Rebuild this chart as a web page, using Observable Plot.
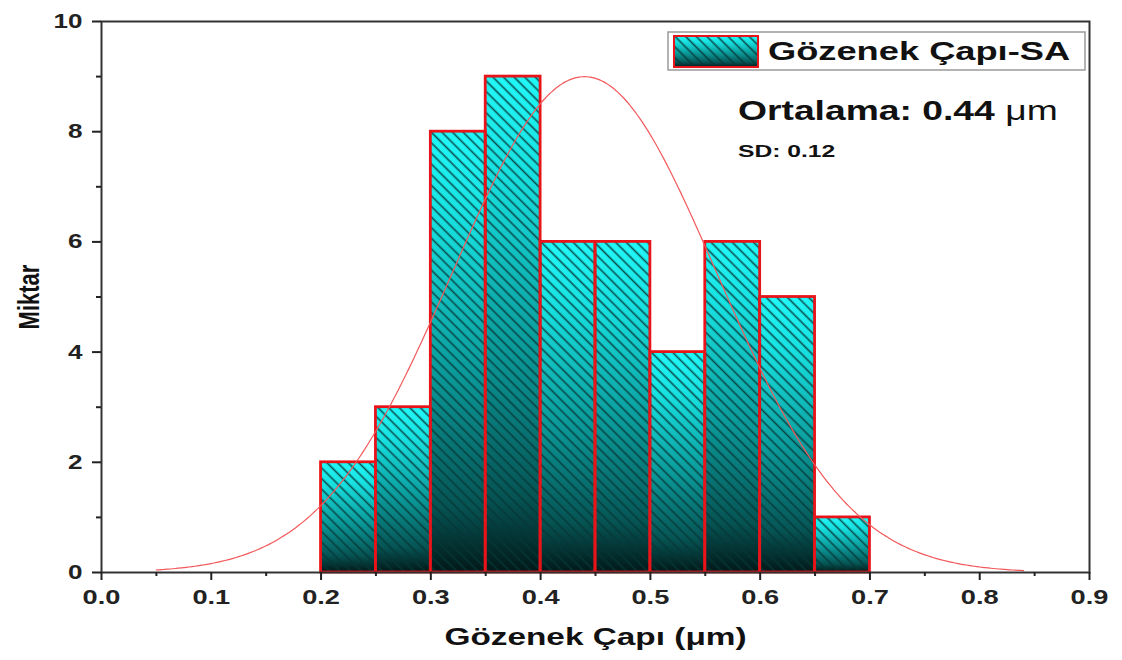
<!DOCTYPE html>
<html>
<head>
<meta charset="utf-8">
<script src="https://cdn.jsdelivr.net/npm/d3@7"></script>
<script src="https://cdn.jsdelivr.net/npm/@observablehq/plot@0.6"></script>
<style>
  html, body { margin: 0; padding: 0; background: #ffffff; }
  #chart svg { display: block; }
</style>
</head>
<body>
<div id="chart"></div>
<script>
// Pore diameter histogram (bins of 0.05 µm) with normal-fit overlay
const binStart = [0.20, 0.25, 0.30, 0.35, 0.40, 0.45, 0.50, 0.55, 0.60, 0.65];
const binCount = [2, 3, 8, 9, 6, 6, 4, 6, 5, 1];
const binWidth = 0.05;

const xTicks = [0, 0.1, 0.2, 0.3, 0.4, 0.5, 0.6, 0.7, 0.8, 0.9];
const xMinorTicks = [0.05, 0.15, 0.25, 0.35, 0.45, 0.55, 0.65, 0.75, 0.85];
const yTicks = [0, 2, 4, 6, 8, 10];
const yMinorTicks = [1, 3, 5, 7, 9];

// Fit statistics as printed on the chart; peak height of the fitted curve
const fitMean = 0.44;
const fitSD = 0.12;
const fitPeak = 9;
const fitRange = [0.05, 0.84];

const xTitle = "Gözenek Çapı (μm)";
const yTitle = "Miktar";
const seriesName = "Gözenek Çapı-SA";
const meanLabel = "Ortalama: 0.44 ";
const sdLabel = "SD: 0.12";

const bins = binStart.map((x, i) => ({x1: x, x2: x + binWidth, count: binCount[i]}));

// Fitted normal curve sampled across its drawn range
const fitCurve = d3.range(fitRange[0], fitRange[1] + 1e-9, 0.0025).map(x => ({
  x, y: fitPeak * Math.exp(-((x - fitMean) ** 2) / (2 * fitSD * fitSD))
}));

const FONT = "'Liberation Sans', Arial, Helvetica, sans-serif";
const BAR_STROKE = "#e8141a";

// Legend and statistics block, placed relative to the frame's top-right corner
function legendMark(index, scales, values, dims) {
  const right = dims.width - dims.marginRight;
  const top = dims.marginTop;
  const g = d3.create("svg:g").attr("font-family", FONT).attr("fill", "#111")
    .attr("text-anchor", "start");
  g.append("rect")
    .attr("x", right - 421).attr("y", top + 11)
    .attr("width", 417).attr("height", 38)
    .attr("fill", "#fff").attr("stroke", "#9a9a9a").attr("stroke-width", 1.5);
  const sw = {x: right - 415, y: top + 15, w: 84, h: 31};
  g.append("rect").attr("x", sw.x).attr("y", sw.y).attr("width", sw.w).attr("height", sw.h)
    .attr("fill", "url(#bar-gradient)");
  g.append("rect").attr("x", sw.x).attr("y", sw.y).attr("width", sw.w).attr("height", sw.h)
    .attr("fill", "url(#bar-hatch)").attr("stroke", BAR_STROKE).attr("stroke-width", 2);
  g.append("text").attr("class", "stretch-145")
    .attr("x", right - 321).attr("y", top + 39)
    .attr("font-size", 25).attr("font-weight", "bold")
    .text(seriesName);
  const mean = g.append("text").attr("class", "stretch-138")
    .attr("x", right - 351).attr("y", top + 99)
    .attr("font-size", 27).attr("font-weight", "bold");
  mean.append("tspan").text(meanLabel);
  mean.append("tspan").attr("font-weight", "normal").text("μm");
  g.append("text").attr("class", "stretch-145")
    .attr("x", right - 351).attr("y", top + 136)
    .attr("font-size", 17).attr("font-weight", "bold")
    .text(sdLabel);
  return g.node();
}

const chart = Plot.plot({
  width: 1122,
  height: 660,
  marginLeft: 101,
  marginRight: 33,
  marginTop: 21,
  marginBottom: 88,
  style: {fontFamily: FONT, background: "#ffffff", color: "#111"},
  x: {domain: [0, 0.9]},
  y: {domain: [0, 10]},
  marks: [
    // bars: gradient fill, then hatching with red outline
    Plot.rectY(bins, {x1: "x1", x2: "x2", y: "count", fill: "url(#bar-gradient)", insetLeft: 0, insetRight: 0}),
    Plot.rectY(bins, {x1: "x1", x2: "x2", y: "count", fill: "url(#bar-hatch)", stroke: BAR_STROKE, strokeWidth: 2.8, insetLeft: 0, insetRight: 0}),
    Plot.line(fitCurve, {x: "x", y: "y", stroke: "#f2595b", strokeWidth: 1.2, curve: "basis"}),
    Plot.frame({stroke: "#333", strokeWidth: 2}),
    Plot.axisX({ticks: xTicks, tickSize: 8, tickPadding: 9, tickFormat: d3.format(".1f"), label: null,
      fontSize: 20, fontWeight: "bold", color: "#222", strokeWidth: 2}),
    Plot.axisX({ticks: xMinorTicks, tickSize: 4, tickFormat: () => "", label: null, color: "#222", strokeWidth: 2}),
    Plot.axisY({ticks: yTicks, tickSize: 9, tickPadding: 10, tickFormat: d3.format("d"), label: null,
      fontSize: 20, fontWeight: "bold", color: "#222", strokeWidth: 2}),
    Plot.axisY({ticks: yMinorTicks, tickSize: 5, tickFormat: () => "", label: null, color: "#222", strokeWidth: 2}),
    Plot.text([xTitle], {frameAnchor: "bottom", dy: 65, lineAnchor: "middle", textAnchor: "middle", fontSize: 23,
      fontWeight: "bold", fill: "#111"}),
    Plot.text([yTitle], {frameAnchor: "left", dx: -72, rotate: -90, lineAnchor: "middle", textAnchor: "middle",
      fontSize: 22, fontWeight: "bold", fill: "#111"}),
    legendMark
  ]
});

// Gradient (cyan at the top of each bar, near-black at its base) and diagonal hatching
const defs = d3.select(chart).insert("defs", ":first-child");
const grad = defs.append("linearGradient").attr("id", "bar-gradient")
  .attr("x1", 0).attr("y1", 0).attr("x2", 0).attr("y2", 1);
grad.append("stop").attr("offset", "0%").attr("stop-color", "#22f8f8");
grad.append("stop").attr("offset", "20%").attr("stop-color", "#18e0e0");
grad.append("stop").attr("offset", "55%").attr("stop-color", "#0b9a9a");
grad.append("stop").attr("offset", "85%").attr("stop-color", "#065454");
grad.append("stop").attr("offset", "100%").attr("stop-color", "#021818");
const hatch = defs.append("pattern").attr("id", "bar-hatch")
  .attr("patternUnits", "userSpaceOnUse").attr("width", 7.5).attr("height", 7.5)
  .attr("patternTransform", "rotate(-45)");
hatch.append("line").attr("x1", 1.5).attr("y1", 0).attr("x2", 1.5).attr("y2", 7.5)
  .attr("stroke", "#063636").attr("stroke-width", 1.6).attr("stroke-opacity", 0.85);

document.getElementById("chart").appendChild(chart);

// Widen horizontal text glyphs; thicken the rotated y title
function stretchText(el, k) {
  const w = el.getComputedTextLength();
  if (w > 0) {
    el.setAttribute("textLength", (w * k).toFixed(1));
    el.setAttribute("lengthAdjust", "spacingAndGlyphs");
  }
}
d3.select(chart).selectAll("text").each(function () {
  const txt = this.textContent;
  const cls = this.getAttribute("class") || "";
  if (cls.includes("stretch-145")) return stretchText(this, 1.45);
  if (cls.includes("stretch-138")) return stretchText(this, 1.38);
  if (txt === yTitle) {
    const t = this.getAttribute("transform");
    if (t) this.setAttribute("transform", t + " scale(1,1.35)");
    return;
  }
  if (txt === xTitle) return stretchText(this, 1.45);
  if (/^\d+(\.\d)?$/.test(txt)) return stretchText(this, txt.includes(".") ? 1.36 : 1.3);
});
</script>
</body>
</html>
